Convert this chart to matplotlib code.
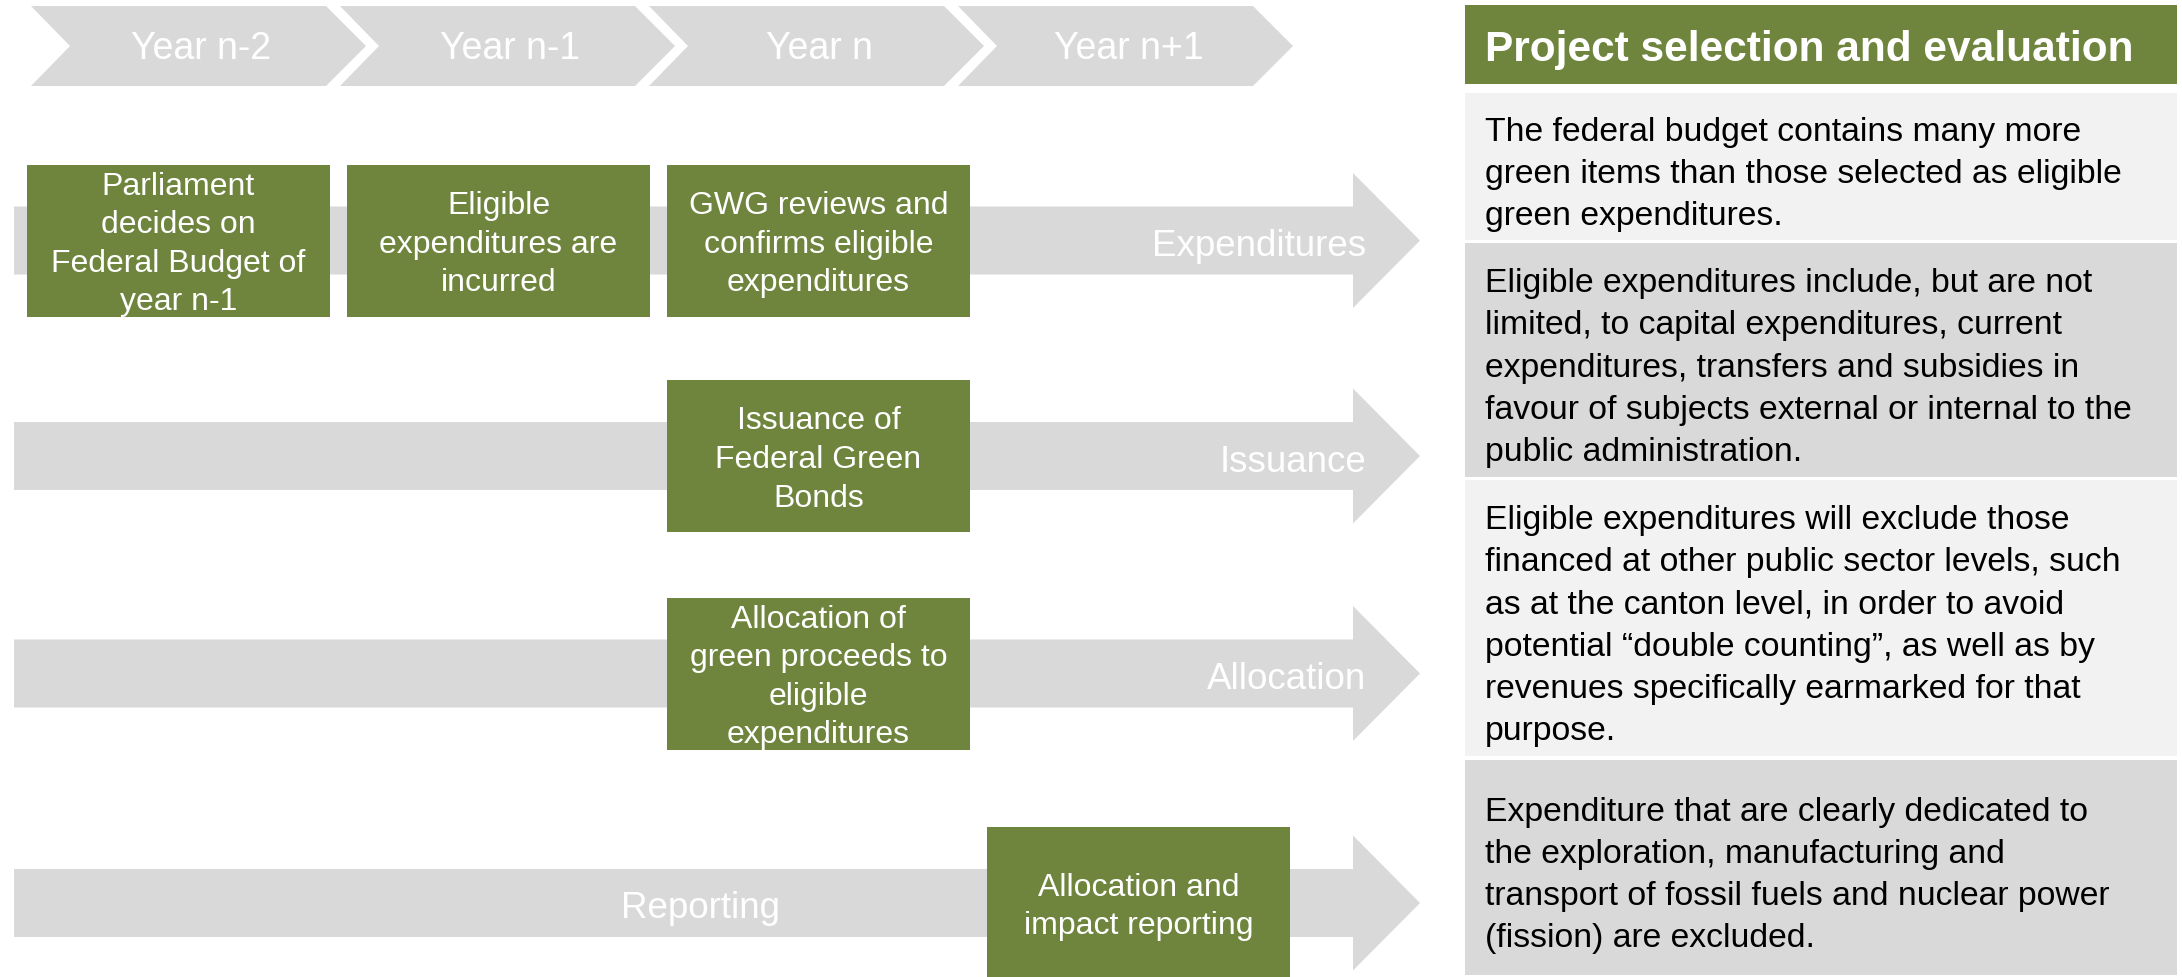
import matplotlib
matplotlib.use('Agg')
import matplotlib.pyplot as plt
from matplotlib.patches import Polygon, Rectangle

# --- content ---
years = ['Year n-2', 'Year n-1', 'Year n', 'Year n+1']
stages = ['Expenditures', 'Issuance', 'Allocation', 'Reporting']

step_texts = [
    'Parliament\ndecides on\nFederal Budget of\nyear n-1',
    'Eligible\nexpenditures are\nincurred',
    'GWG reviews and\nconfirms eligible\nexpenditures',
    'Issuance of\nFederal Green\nBonds',
    'Allocation of\ngreen proceeds to\neligible\nexpenditures',
    'Allocation and\nimpact reporting',
]
step_stage = [0, 0, 0, 1, 2, 3]   # which arrow row
step_year = [0, 1, 2, 2, 2, 3]    # which year column

panel_title = 'Project selection and evaluation'
panel_texts = [
    'The federal budget contains many more\ngreen items than those selected as eligible\ngreen expenditures.',
    'Eligible expenditures include, but are not\nlimited, to capital expenditures, current\nexpenditures, transfers and subsidies in\nfavour of subjects external or internal to the\npublic administration.',
    'Eligible expenditures will exclude those\nfinanced at other public sector levels, such\nas at the canton level, in order to avoid\npotential \u201cdouble counting\u201d, as well as by\nrevenues specifically earmarked for that\npurpose.',
    'Expenditure that are clearly dedicated to\nthe exploration, manufacturing and\ntransport of fossil fuels and nuclear power\n(fission) are excluded.',
]

# --- style ---
GREEN = '#6F853E'
GRAY = '#D9D9D9'
LIGHT = '#F2F2F2'
plt.rcParams['font.family'] = ['Liberation Sans', 'DejaVu Sans']

W, H = 2182, 978
fig = plt.figure(figsize=(W / 100, H / 100), dpi=100)
ax = fig.add_axes([0, 0, 1, 1])
ax.set_xlim(0, W)
ax.set_ylim(H, 0)
ax.axis('off')

# year chevrons along the top
for i, yr in enumerate(years):
    left = 31 + 309 * i
    right = left + 295
    top, bot = 7, 87
    mid = (top + bot) / 2
    pts = [(left, top), (right, top), (right + 40, mid), (right, bot), (left, bot), (left + 39, mid)]
    ax.add_patch(Polygon(pts, closed=True, fc=GRAY, ec='none'))
    ax.text((left + right + 40) / 2 + 3, mid + 2, yr, color='white', fontsize=27,
            ha='center', va='center')

# process arrows
row_y = [241.5, 457, 674.5, 904]
for r, stage in enumerate(stages):
    c = row_y[r]
    pts = [(14, c - 34), (1353, c - 34), (1353, c - 67.5), (1420, c),
           (1353, c + 67.5), (1353, c + 34), (14, c + 34)]
    ax.add_patch(Polygon(pts, closed=True, fc=GRAY, ec='none'))
    if r == 3:
        ax.text(700, c + 5, stage, color='white', fontsize=26.5, ha='center', va='center')
    else:
        ax.text(1366, c + 5, stage, color='white', fontsize=26.5, ha='right', va='center')

# green step boxes
for txt, r, col in zip(step_texts, step_stage, step_year):
    x0 = 27 + 320 * col
    c = row_y[r]
    ax.add_patch(Rectangle((x0, c - 76), 303, 152, fc=GREEN, ec='none'))
    ax.text(x0 + 151.5, c + 3, txt, color='white', fontsize=23, ha='center', va='center',
            linespacing=1.37)

# right-hand panel
px0, px1 = 1465, 2177
ax.add_patch(Rectangle((px0, 6), px1 - px0, 79, fc=GREEN, ec='none'))
ax.text(1485, 50, panel_title, color='white', fontsize=30.5, fontweight='bold',
        ha='left', va='center')

panel_rows = [(94, 241), (244, 478), (481, 757), (761, 976)]
for k, (txt, (t, b)) in enumerate(zip(panel_texts, panel_rows)):
    ax.add_patch(Rectangle((px0, t), px1 - px0, b - t, fc=LIGHT if k % 2 == 0 else GRAY, ec='none'))
    ax.text(1485, (t + b) / 2 + 7, txt, color='black', fontsize=24.3, ha='left', va='center',
            linespacing=1.46)

fig.savefig('out.png', dpi=100)
